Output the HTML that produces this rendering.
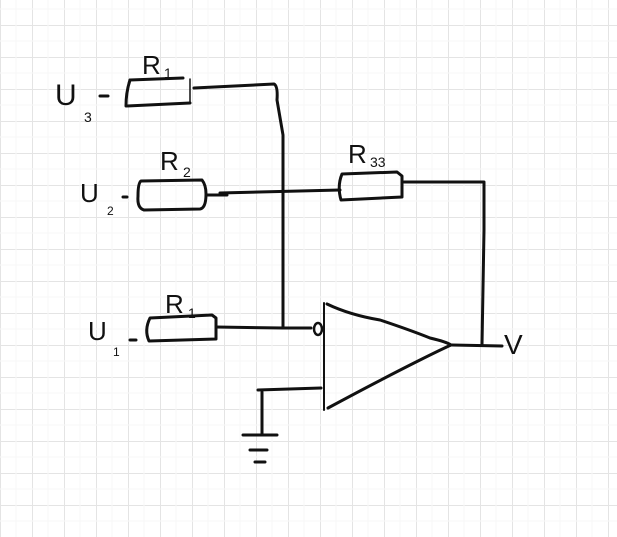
<!DOCTYPE html>
<html><head><style>
html,body{margin:0;padding:0;background:#fff;}
svg{display:block;}
</style></head><body>
<svg width="617" height="537" viewBox="0 0 617 537" xmlns="http://www.w3.org/2000/svg">
<defs>
<pattern id="g" width="32" height="32" patternUnits="userSpaceOnUse" x="0" y="25">
<path d="M0 0H32M0 0V32" stroke="#e4e4e4" stroke-width="2" fill="none"/>
<path d="M16 0V32M0 16H32" stroke="#f7f7f7" stroke-width="1" fill="none"/>
</pattern>
</defs>
<rect width="617" height="537" fill="url(#g)"/>
<g fill="none" stroke="#111" stroke-width="3" stroke-linecap="round" stroke-linejoin="round">
<!-- R3 -->
<path d="M130 80 L183 78"/>
<path d="M130 80 Q126 92 126 106 L190 103"/>
<path d="M190 79 V103" stroke-width="1.5"/>
<path d="M194 88 L274 84 Q278 86 277 100 L283 135 L283 328"/>
<path d="M100 96 H108"/>
<!-- R2 -->
<path d="M141 181 L202 180 Q206 185 206 194 Q206 208 200 209 L144 210 Q137 208 138 196 Q138 183 141 181Z"/>
<path d="M206 195 L227 195"/>
<path d="M220 193 L340 190"/>
<path d="M123 197 H127"/>
<!-- R33 -->
<path d="M342 174 L397 172 L402 176 V197 L341 200 Q337 186 342 174Z"/>
<path d="M404 182 H484 L484 230 L482 345"/>
<!-- R1 -->
<path d="M150 318 L212 315 L216 318 V339 L149 341 Q144 330 150 318Z"/>
<path d="M216 327 L283 328 L311 328"/>
<path d="M130 340 H136"/>
<ellipse cx="318" cy="329" rx="4" ry="6" stroke-width="2.5"/>
<!-- op amp -->
<path d="M324 303 V410" stroke-width="2"/>
<path d="M327 304 Q350 315 380 320 Q410 330 430 338 Q447 342 451 345 Q440 350 420 360 Q380 380 328 408"/>
<path d="M452 345 L502 346"/>
<!-- ground -->
<path d="M258 390 L321 388"/>
<path d="M262 392 V435"/>
<path d="M243 435 H277"/>
<path d="M250 450 H267"/>
<path d="M255 462 H265"/>
</g>
<g font-family="Liberation Sans, sans-serif" fill="#111">
<text x="142" y="74" font-size="26">R</text><text x="164" y="78" font-size="14">1</text>
<text x="160" y="170" font-size="26">R</text><text x="183" y="177" font-size="14">2</text>
<text x="348" y="163" font-size="26">R</text><text x="370" y="167" font-size="14">33</text>
<text x="165" y="313" font-size="26">R</text><text x="188" y="318" font-size="14">1</text>
<text x="55" y="105" font-size="30">U</text><text x="84" y="122" font-size="14">3</text>
<text x="80" y="202" font-size="26">U</text><text x="107" y="215" font-size="12">2</text>
<text x="88" y="340" font-size="26">U</text><text x="113" y="356" font-size="12">1</text>
<text x="504" y="354" font-size="28">V</text>
</g>
</svg>
</body></html>
